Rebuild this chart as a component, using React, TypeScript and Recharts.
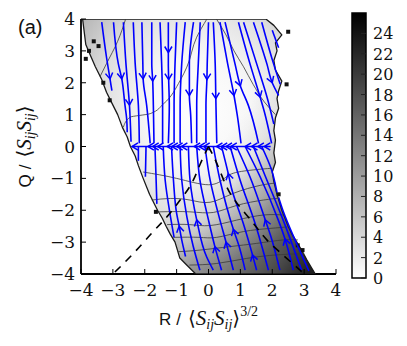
import React from "react";
import { ScatterChart, Scatter, XAxis, YAxis, Curve, ComposedChart, Bar } from "recharts";

type Pt = [number, number];
type Stream = { pts: Pt[]; arrows: number[] };

const axisTicks = [-4, -3, -2, -1, 0, 1, 2, 3, 4];
const colorTicks = [0, 2, 4, 6, 8, 10, 12, 14, 16, 18, 20, 22, 24];
const colorMax = [{ name: "pdf", v: 26 }];

// outline of the sampled (grey) region, R / Q
const regionEdge: Pt[] = [
  [-3.95, 4], [1.8, 4],
  [2.05, 3.8], [2.3, 3.5], [2.1, 3.25], [2.15, 3.0], [2.05, 2.7], [2.1, 2.4], [2.3, 2.05], [2.2, 1.75],
  [2.15, 1.5], [2.2, 1.2], [2.1, 0.9], [2.05, 0.5], [2.1, 0.2], [2.05, -0.2], [2.1, -0.5], [2.0, -0.8],
  [2.05, -1.1], [2.15, -1.5], [2.3, -2.0], [2.5, -2.5], [2.62, -2.75], [2.77, -3.0], [2.95, -3.3],
  [3.08, -3.55], [3.2, -3.75], [3.35, -4],
  [-0.4, -4],
  [-0.7, -3.7], [-0.9, -3.5], [-1.05, -3.0], [-1.2, -2.75], [-1.33, -2.5], [-1.45, -2.25], [-1.6, -2.0],
  [-1.85, -1.5], [-2.05, -1.0], [-2.2, -0.6], [-2.3, -0.3], [-2.45, 0.0], [-2.55, 0.3], [-2.7, 0.6],
  [-2.85, 1.0], [-3.05, 1.4], [-3.2, 1.7], [-3.35, 2.1], [-3.55, 2.5], [-3.7, 2.85], [-3.85, 3.2],
  [-3.9, 3.6], [-3.95, 4],
];

const edgeDots: Pt[] = [
  [-3.6, 3.3], [-3.75, 3.0], [-3.85, 2.75], [-3.45, 3.15], [-3.3, 2.0], [-3.1, 1.45],
  [2.5, 3.6], [2.45, 1.95], [2.2, -1.5], [2.8, -3.1], [2.95, -3.25], [-1.65, -2.05],
];

const upperContours: Pt[][] = [
  [[-0.05, 4], [-0.37, 3.43], [-0.68, 2.49], [-0.89, 2.07], [-1.41, 1.34], [-1.83, 1.03], [-2.46, 0.92], [-2.67, 0.61]],
  [[-2.6, 4], [-2.85, 3.3], [-3.2, 2.6], [-3.4, 2.2]],
  [[0.25, 4], [0.55, 3.5], [0.8, 3.0], [1.1, 2.5], [1.4, 1.95], [1.75, 1.4], [2.1, 1.0]],
];

const lowerContours: Pt[][] = [
  [[-2.05, -0.8], [-1.0, -1.0], [0.0, -1.2], [0.5, -1.0], [0.93, -0.8], [2.0, -0.68]],
  [[-1.78, -1.68], [-1.2, -1.63], [-0.58, -1.68], [0.05, -1.75], [0.78, -1.47], [1.62, -1.22], [2.12, -1.15]],
  [[-1.55, -2.05], [-0.58, -2.05], [0.15, -2.07], [0.88, -1.85], [1.72, -1.68], [2.22, -1.62]],
  [[-1.3, -2.45], [-0.6, -2.45], [0.05, -2.48], [0.88, -2.31], [1.72, -2.15], [2.36, -2.15]],
  [[-1.1, -2.85], [-0.3, -2.85], [0.26, -2.85], [1.09, -2.67], [1.93, -2.57], [2.5, -2.52]],
  [[-0.95, -3.3], [-0.27, -3.25], [0.68, -3.14], [1.51, -3.04], [2.35, -2.93], [2.8, -2.93]],
  [[-0.6, -3.72], [0.26, -3.67], [1.2, -3.51], [2.14, -3.4], [3.0, -3.36]],
];

// streamlines in flow order; arrows = indices of arrow heads
const upperStreams: Stream[] = [
  { pts: [[-3.35, 3.9], [-3.2, 2.8], [-3.09, 2.12], [-3.03, 1.75]], arrows: [2] },
  { pts: [[-2.98, 3.9], [-2.83, 2.6], [-2.72, 2.12], [-2.62, 1.29], [-2.57, 0.9], [-2.55, 0.45]], arrows: [2] },
  { pts: [[-2.67, 3.9], [-2.59, 2.6], [-2.48, 1.3], [-2.43, 0.15]], arrows: [2] },
  { pts: [[-2.36, 3.9], [-2.3, 2.6], [-2.2, 1.29], [-2.17, 0.1]], arrows: [] },
  { pts: [[-2.09, 3.9], [-2.06, 2.6], [-2.05, 2.12], [-1.94, 1.29], [-1.83, 0.1]], arrows: [2] },
  { pts: [[-1.78, 3.9], [-1.78, 2.6], [-1.75, 2.05], [-1.73, 1.29], [-1.71, 0.1]], arrows: [2] },
  { pts: [[-1.52, 3.9], [-1.47, 2.6], [-1.44, 1.29], [-1.44, 0.1]], arrows: [] },
  { pts: [[-1.26, 3.9], [-1.26, 2.95], [-1.26, 2.6], [-1.25, 2.1], [-1.23, 1.29], [-1.26, 0.1]], arrows: [1, 3] },
  { pts: [[-1.0, 3.9], [-1.05, 2.6], [-1.08, 1.29], [-1.08, 0.1]], arrows: [] },
  { pts: [[-0.73, 3.9], [-0.84, 2.6], [-0.89, 1.29], [-0.89, 0.1]], arrows: [] },
  { pts: [[-0.47, 3.9], [-0.6, 2.6], [-0.6, 1.6], [-0.56, 1.0], [-0.53, 0.1]], arrows: [2] },
  { pts: [[-0.26, 3.9], [-0.32, 2.6], [-0.37, 1.29], [-0.37, 0.1]], arrows: [] },
  { pts: [[0.0, 3.9], [-0.04, 2.6], [-0.05, 2.1], [-0.08, 1.29], [-0.08, 0.1]], arrows: [2] },
  { pts: [[0.15, 3.9], [0.21, 2.6], [0.23, 1.5], [0.24, 1.0], [0.26, 0.1]], arrows: [2] },
  { pts: [[0.36, 3.9], [0.6, 2.6], [0.8, 1.6], [0.9, 1.0], [1.02, 0.1]], arrows: [2] },
  { pts: [[0.52, 3.9], [0.83, 2.6], [1.0, 1.9], [1.25, 1.29], [1.57, 0.1]], arrows: [2] },
  { pts: [[0.94, 3.9], [1.3, 2.6], [1.62, 1.55], [1.75, 1.1], [1.98, 0.1]], arrows: [2] },
  { pts: [[1.1, 3.9], [1.51, 2.6], [1.85, 1.5], [2.05, 0.7]], arrows: [] },
  { pts: [[1.41, 3.9], [1.83, 2.6], [2.0, 2.0], [2.2, 1.6]], arrows: [2] },
  { pts: [[1.67, 3.9], [2.04, 2.6], [2.25, 1.95]], arrows: [] },
  { pts: [[2.0, 3.65], [2.2, 3.1]], arrows: [] },
];

const lowerStreams: Stream[] = [
  { pts: [[-2.2, -0.45], [-2.2, 0.0]], arrows: [] },
  { pts: [[-1.98, -0.95], [-1.97, -0.5], [-1.96, 0.0]], arrows: [] },
  { pts: [[-1.62, -1.8], [-1.65, -0.84], [-1.68, 0.0]], arrows: [] },
  { pts: [[-1.08, -2.85], [-1.21, -2.1], [-1.36, -1.05], [-1.42, 0.0]], arrows: [] },
  { pts: [[-0.72, -3.45], [-0.84, -2.93], [-0.92, -2.5], [-1.0, -2.1], [-1.1, -1.05], [-1.16, 0.0]], arrows: [2] },
  { pts: [[-0.27, -3.88], [-0.48, -3.13], [-0.68, -2.2], [-0.84, -1.05], [-0.89, 0.0]], arrows: [] },
  { pts: [[0.15, -3.88], [-0.06, -3.46], [-0.37, -2.3], [-0.58, -1.05], [-0.63, 0.0]], arrows: [2] },
  { pts: [[0.41, -3.88], [0.2, -3.14], [0.0, -2.31], [-0.27, -1.05], [-0.37, 0.0]], arrows: [1] },
  { pts: [[0.78, -3.88], [0.55, -3.0], [0.36, -2.31], [0.05, -1.05], [-0.11, 0.0]], arrows: [1] },
  { pts: [[1.15, -3.88], [0.95, -3.1], [0.78, -2.6], [0.36, -1.05], [0.15, 0.0]], arrows: [2] },
  { pts: [[1.51, -3.88], [1.38, -3.4], [1.09, -2.41], [0.72, -1.3], [0.62, -0.85], [0.41, 0.0]], arrows: [1, 4] },
  { pts: [[1.88, -3.88], [1.46, -2.41], [0.99, -1.05], [0.68, 0.0]], arrows: [] },
  { pts: [[2.24, -3.88], [1.95, -2.8], [1.78, -2.3], [1.3, -0.95], [0.88, 0.0]], arrows: [2] },
  { pts: [[2.66, -3.88], [2.4, -2.9], [2.19, -2.31], [1.62, -0.95], [1.15, 0.0]], arrows: [1] },
  { pts: [[2.92, -3.88], [2.3, -2.2], [1.77, -0.9], [1.41, 0.0]], arrows: [] },
  { pts: [[3.15, -3.9], [2.7, -2.9], [2.35, -2.05], [2.2, -1.6]], arrows: [] },
  { pts: [[2.15, -1.45], [1.98, -0.74], [1.67, 0.0]], arrows: [] },
];

const zeroStream: Stream = {
  pts: [
    [1.95, 0], [1.75, 0], [1.55, 0], [1.35, 0], [1.15, 0], [0.7, 0], [0.55, 0], [0.4, 0], [0.25, 0],
    [-0.15, 0], [-0.3, 0], [-0.45, 0], [-0.85, 0], [-1.0, 0], [-1.15, 0], [-1.3, 0], [-1.6, 0],
    [-1.75, 0], [-1.9, 0], [-2.4, 0],
  ],
  arrows: [1, 2, 3, 4, 5, 6, 7, 8, 9, 10, 11, 12, 13, 14, 15, 16, 17, 18, 19],
};

// R-Q discriminant line (dashed)
const vieilleLeft: Pt[] = [[0, 0], [-0.26, -0.55], [-0.53, -1.16], [-0.89, -1.68], [-1.3, -2.2], [-1.78, -2.72], [-2.35, -3.35], [-2.95, -3.95]];
const vieilleRight: Pt[] = [[0, 0], [0.26, -0.53], [0.57, -1.26], [0.94, -1.84], [1.41, -2.41], [1.83, -2.93], [2.4, -3.46], [2.95, -3.95]];

const tickFont = "'DejaVu Serif', serif";
const serif = "'Liberation Serif', 'DejaVu Serif', serif";
const sans = "'Liberation Sans', Arial, sans-serif";
const BLUE = "#0000ff";

const toXY = (pts: Pt[]) => pts.map(([x, y]) => ({ x, y }));
const noDot = () => <g />;
const fmt = (v: number) => (v < 0 ? `\u2212${-v}` : `${v}`);

function Chevron({ tip, from, to }: any) {
  const dx = to.x - from.x;
  const dy = to.y - from.y;
  const len = Math.hypot(dx, dy) || 1;
  const ux = dx / len;
  const uy = dy / len;
  const L = 7;
  const c = Math.cos(0.55);
  const s = Math.sin(0.55);
  const b1x = tip.x - L * (ux * c - uy * s);
  const b1y = tip.y - L * (uy * c + ux * s);
  const b2x = tip.x - L * (ux * c + uy * s);
  const b2y = tip.y - L * (uy * c - ux * s);
  return <polyline points={`${b1x},${b1y} ${tip.x},${tip.y} ${b2x},${b2y}`} fill="none" stroke={BLUE} strokeWidth={1.5} />;
}

const streamLine = (arrows: number[], curve: any) => (p: any) => {
  const pts = p.points;
  return (
    <g>
      <Curve type={curve} points={pts} stroke={BLUE} strokeWidth={1.6} fill="none" />
      {arrows.map((i) => (
        <Chevron key={i} tip={pts[i]} from={pts[i - 1]} to={pts[i + 1] ?? pts[i]} />
      ))}
    </g>
  );
};

const regionShape = (p: any) => {
  const pts = p.points;
  const d = pts.map((q: any, i: number) => `${i ? "L" : "M"}${q.x},${q.y}`).join("") + "Z";
  return (
    <g>
      <path d={d} fill="url(#fieldBase)" stroke="none" />
      <path d={d} fill="url(#fieldDark)" stroke="#1a1a1a" strokeWidth={1.3} strokeLinejoin="round" />
    </g>
  );
};

const contourLine = (curve: any) => (p: any) => (
  <Curve type={curve} points={p.points} stroke="#3a3a3a" strokeWidth={0.8} fill="none" />
);

const dashedLine = (p: any) => (
  <Curve type="natural" points={p.points} stroke="#000" strokeWidth={1.6} strokeDasharray="8 7" fill="none" />
);

function BottomTick({ x, y, payload }: any) {
  return (
    <g>
      <line x1={x} x2={x} y1={y} y2={y - 5} stroke="#000" />
      <text x={x} y={y + 22} textAnchor="middle" fontFamily={tickFont} fontSize={17} fill="#111">
        {fmt(payload.value)}
      </text>
    </g>
  );
}

function LeftTick({ x, y, payload }: any) {
  return (
    <g>
      <line x1={x} x2={x + 5} y1={y} y2={y} stroke="#000" />
      <text x={x - 6} y={y + 6} textAnchor="end" fontFamily={tickFont} fontSize={17} fill="#111">
        {fmt(payload.value)}
      </text>
    </g>
  );
}

const TopTick = ({ x, y }: any) => <line x1={x} x2={x} y1={y} y2={y + 5} stroke="#000" />;
const RightTick = ({ x, y }: any) => <line x1={x} x2={x - 5} y1={y} y2={y} stroke="#000" />;

function BarTick({ x, y, payload }: any) {
  return (
    <g>
      <line x1={x} x2={x - 5} y1={y} y2={y} stroke="#222" />
      <text x={x + 7} y={y + 6} fontFamily={tickFont} fontSize={16} fill="#111">
        {payload.value}
      </text>
    </g>
  );
}

function XTitle({ viewBox }: any) {
  const cx = viewBox.x + viewBox.width / 2;
  return (
    <text x={cx} y={viewBox.y + 51} textAnchor="middle" fill="#111">
      <tspan fontFamily={sans} fontSize={17}>R</tspan>
      <tspan fontFamily={sans} fontSize={17} dx={5}>/</tspan>
      <tspan fontFamily={serif} fontSize={20} dx={7}>⟨</tspan>
      <tspan fontFamily={serif} fontSize={21} fontStyle="italic">S</tspan>
      <tspan fontFamily={serif} fontSize={14} fontStyle="italic" dy={4}>ij</tspan>
      <tspan fontFamily={serif} fontSize={21} fontStyle="italic" dy={-4}>S</tspan>
      <tspan fontFamily={serif} fontSize={14} fontStyle="italic" dy={4}>ij</tspan>
      <tspan fontFamily={serif} fontSize={20} dy={-4}>⟩</tspan>
      <tspan fontFamily={serif} fontSize={14} dy={-9}>3/2</tspan>
    </text>
  );
}

function YTitle({ viewBox }: any) {
  const x = viewBox.x - 20;
  const cy = viewBox.y + viewBox.height / 2;
  return (
    <g>
      <text x={viewBox.x - 33} y={viewBox.y + 15} fontFamily={sans} fontSize={20} fill="#111">
        (a)
      </text>
      <text x={x} y={cy} textAnchor="middle" fill="#111" transform={`rotate(-90 ${x} ${cy})`}>
        <tspan fontFamily={sans} fontSize={17}>Q</tspan>
        <tspan fontFamily={sans} fontSize={17} dx={5}>/</tspan>
        <tspan fontFamily={serif} fontSize={20} dx={7}>⟨</tspan>
        <tspan fontFamily={serif} fontSize={21} fontStyle="italic">S</tspan>
        <tspan fontFamily={serif} fontSize={14} fontStyle="italic" dy={4}>ij</tspan>
        <tspan fontFamily={serif} fontSize={21} fontStyle="italic" dy={-4}>S</tspan>
        <tspan fontFamily={serif} fontSize={14} fontStyle="italic" dy={4}>ij</tspan>
        <tspan fontFamily={serif} fontSize={20} dy={-4}>⟩</tspan>
      </text>
    </g>
  );
}

const frame = { stroke: "#000", strokeWidth: 1.8 };

export default function App() {
  return (
    <div style={{ position: "absolute", left: 0, top: 0, width: 407, height: 346, background: "#fff" }}>
      <svg width={0} height={0} style={{ position: "absolute" }}>
        <defs>
          <radialGradient id="fieldBase" cx="0.5" cy="0.36" r="0.62">
            <stop offset="0" stopColor="#ffffff" />
            <stop offset="0.35" stopColor="#f7f7f7" />
            <stop offset="0.7" stopColor="#dedede" />
            <stop offset="1" stopColor="#b4b4b4" />
          </radialGradient>
          <linearGradient id="fieldDark" x1="0.476" y1="0.625" x2="0.95" y2="1.02">
            <stop offset="0" stopColor="#000" stopOpacity={0} />
            <stop offset="0.22" stopColor="#000" stopOpacity={0.05} />
            <stop offset="0.48" stopColor="#000" stopOpacity={0.27} />
            <stop offset="0.6" stopColor="#000" stopOpacity={0.38} />
            <stop offset="0.82" stopColor="#000" stopOpacity={0.6} />
            <stop offset="1" stopColor="#000" stopOpacity={0.82} />
          </linearGradient>
          <linearGradient id="cbar" x1="0" y1="1" x2="0" y2="0">
            <stop offset="0" stopColor="#ffffff" />
            <stop offset="1" stopColor="#000000" />
          </linearGradient>
        </defs>
      </svg>

      <div style={{ position: "absolute", left: 0, top: 0 }}>
        <ScatterChart width={407} height={346} margin={{ top: 19, right: 71, bottom: 42, left: 51 }}>
          <XAxis type="number" dataKey="x" domain={[-4, 4]} ticks={axisTicks} interval={0} allowDataOverflow
            height={30} tickSize={0} tickMargin={0} tickLine={false} axisLine={frame} tick={<BottomTick />}
            label={<XTitle />} />
          <YAxis type="number" dataKey="y" domain={[-4, 4]} ticks={axisTicks} interval={0} allowDataOverflow
            width={30} tickSize={0} tickMargin={0} tickLine={false} axisLine={frame} tick={<LeftTick />}
            label={<YTitle />} />
          <XAxis xAxisId="top" orientation="top" type="number" dataKey="x" domain={[-4, 4]} ticks={axisTicks}
            interval={0} allowDataOverflow height={0} tickSize={0} tickMargin={0} tickLine={false} axisLine={frame}
            tick={<TopTick />} />
          <YAxis yAxisId="right" orientation="right" type="number" dataKey="y" domain={[-4, 4]} ticks={axisTicks}
            interval={0} allowDataOverflow width={0} tickSize={0} tickMargin={0} tickLine={false} axisLine={frame}
            tick={<RightTick />} />

          <Scatter data={toXY(regionEdge)} shape={noDot} line={regionShape} isAnimationActive={false} />
          {upperContours.map((c, i) => (
            <Scatter key={`uc${i}`} data={toXY(c)} shape={noDot} line={contourLine("monotoneY")} isAnimationActive={false} />
          ))}
          {lowerContours.map((c, i) => (
            <Scatter key={`lc${i}`} data={toXY(c)} shape={noDot} line={contourLine("natural")} isAnimationActive={false} />
          ))}
          <Scatter
            data={toXY(edgeDots)}
            shape={(p: any) => <rect x={p.cx - 2} y={p.cy - 2} width={4} height={4} fill="#111" />}
            isAnimationActive={false}
          />
          {upperStreams.map((s, i) => (
            <Scatter key={`us${i}`} data={toXY(s.pts)} shape={noDot} line={streamLine(s.arrows, "monotoneY")} isAnimationActive={false} />
          ))}
          {lowerStreams.map((s, i) => (
            <Scatter key={`ls${i}`} data={toXY(s.pts)} shape={noDot} line={streamLine(s.arrows, "monotoneY")} isAnimationActive={false} />
          ))}
          <Scatter data={toXY(zeroStream.pts)} shape={noDot} line={streamLine(zeroStream.arrows, "linear")} isAnimationActive={false} />
          <Scatter data={toXY(vieilleLeft)} shape={noDot} line={dashedLine} isAnimationActive={false} />
          <Scatter data={toXY(vieilleRight)} shape={noDot} line={dashedLine} isAnimationActive={false} />
        </ScatterChart>
      </div>

      <div style={{ position: "absolute", left: 340, top: 0 }}>
        <ComposedChart width={67} height={346} data={colorMax} margin={{ top: 13, right: 1, bottom: 68, left: 12 }} barCategoryGap={0}>
          <XAxis dataKey="name" hide />
          <YAxis orientation="right" type="number" domain={[0, 26]} ticks={colorTicks} interval={0} width={40}
            tickSize={0} tickMargin={0} tickLine={false} axisLine={false} tick={<BarTick />} />
          <Bar dataKey="v" fill="url(#cbar)" stroke="#000" strokeWidth={1.5} isAnimationActive={false} />
        </ComposedChart>
      </div>
    </div>
  );
}
